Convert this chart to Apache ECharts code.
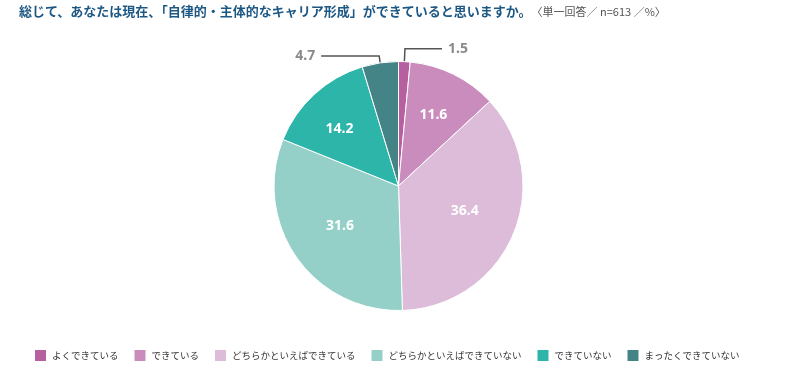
<!DOCTYPE html>
<html><head><meta charset="utf-8">
<script src="https://cdn.jsdelivr.net/npm/echarts@6/dist/echarts.min.js"></script>
<style>html,body{margin:0;padding:0;background:#fff}#c{width:790px;height:390px}</style>
</head><body><div id="c"></div>
<script>
const categories = ['よくできている','できている','どちらかといえばできている','どちらかといえばできていない','できていない','まったくできていない'];
const values = [1.5, 11.6, 36.4, 31.6, 14.2, 4.7];
const colors = ['#b660a0','#c98cbd','#dcbcd8','#94d0c7','#2db5a9','#448487'];
const titleMain = '総じて、あなたは現在、「自律的・主体的なキャリア形成」ができていると思いますか。';
const titleSub = '〈単一回答／ n=613 ／%〉';

const outsideLine = {1.5: [13, 37], 4.7: [7, 58]};
const innerShift = {11.6: [6, -12], 36.4: [6, 0], 31.6: [-5, 3], 14.2: [-15, -9]};
const data = categories.map((n, i) => {
  const d = {name: n, value: values[i], itemStyle: {color: colors[i]}};
  if (outsideLine[values[i]]) {
    d.label = {position: 'outside', color: '#8a8a8a', fontSize: 14, fontWeight: 'bold', distanceToLabelLine: 6};
    d.labelLine = {show: true, length: outsideLine[values[i]][0], length2: outsideLine[values[i]][1], lineStyle: {color: '#555', width: 1.5}};
  }
  return d;
});

const chart = echarts.init(document.getElementById('c'));
chart.setOption({
  animation: false,
  textStyle: {fontFamily: '"Noto Sans CJK JP", "Noto Sans", sans-serif'},
  title: {
    left: 14, top: 0,
    text: '{a|' + titleMain + '}{b|' + titleSub + '}',
    textStyle: {rich: {
      a: {fontSize: 13, fontWeight: 'bold', color: '#1d5783', fontFamily: '"Noto Sans CJK JP"'},
      b: {fontSize: 11, fontWeight: 'normal', color: '#555', fontFamily: '"Noto Sans CJK JP"'}
    }}
  },
  legend: {
    left: 33, top: 348, padding: 0,
    itemWidth: 13, itemHeight: 13, itemGap: 14,
    icon: 'rect',
    textStyle: {fontSize: 9.5, color: '#333'},
    data: categories
  },
  series: [{
    type: 'pie',
    center: [398.5, 186],
    radius: 124.5,
    startAngle: 90,
    clockwise: true,
    avoidLabelOverlap: false,
    itemStyle: {borderColor: '#fff', borderWidth: 1},
    label: {position: 'inside', color: '#fff', fontSize: 14, fontWeight: 'bold', fontFamily: '"Noto Sans", sans-serif', formatter: p => p.value.toFixed(1)},
    labelLine: {show: false},
    labelLayout: p => {
      const s = innerShift[values[p.dataIndex]];
      return s ? {dx: s[0], dy: s[1]} : {};
    },
    data: data
  }]
});
</script></body></html>
